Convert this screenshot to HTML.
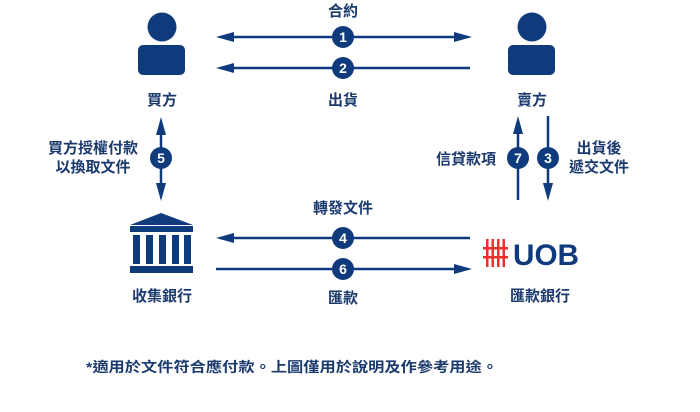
<!DOCTYPE html>
<html><head><meta charset="utf-8"><style>
body{margin:0;background:#fff;}
svg text{font-family:"Liberation Sans","Noto Sans CJK TC",sans-serif;fill:#1b3a6e;font-weight:bold;}
</style></head><body>
<svg width="700" height="407" viewBox="0 0 700 407" xmlns="http://www.w3.org/2000/svg">
<g fill="#0f3b7d">
<circle cx="162" cy="27" r="14.5"/><rect x="138" y="45" width="47" height="30" rx="5"/>
<circle cx="532" cy="27" r="14.5"/><rect x="508" y="45" width="47" height="30" rx="5"/>
<path d="M161,213 L193,225 L130,225z"/><rect x="130" y="226" width="63" height="6"/>
<rect x="133" y="235" width="7" height="29"/><rect x="146" y="235" width="7" height="29"/><rect x="159" y="235" width="7" height="29"/><rect x="172" y="235" width="7" height="29"/><rect x="184" y="235" width="7" height="29"/>
<rect x="130" y="266" width="63" height="7"/>
</g>
<g fill="#e8322b">
<rect x="486" y="239" width="2.5" height="28"/><rect x="491.5" y="239" width="2.5" height="28"/><rect x="497" y="239" width="2.5" height="28"/><rect x="502.5" y="239" width="2.5" height="28"/>
<rect x="483" y="247" width="25" height="2.5"/><rect x="483" y="256" width="25" height="2.5"/>
</g>
<text x="513" y="265" style="font-size:30px;fill:#0f3b7d" textLength="66" lengthAdjust="spacingAndGlyphs">UOB</text>
<g stroke="#0f3b7d" stroke-width="2.5" fill="none">
<line x1="220" y1="37" x2="468" y2="37"/><line x1="470" y1="68" x2="220" y2="68"/>
<line x1="470" y1="238" x2="220" y2="238"/><line x1="216" y1="269" x2="468" y2="269"/>
<line x1="161" y1="122" x2="161" y2="196"/>
<line x1="518" y1="200" x2="518" y2="121"/><line x1="548" y1="116" x2="548" y2="196"/>
</g>
<g fill="#0f3b7d">
<path d="M216,37 l18,-5 v10z"/><path d="M472,37 l-18,-5 v10z"/><path d="M216,68 l18,-5 v10z"/>
<path d="M216,238 l18,-5 v10z"/><path d="M472,269 l-18,-5 v10z"/>
<path d="M161,117 l-5,18 h10z"/><path d="M161,201 l-5,-18 h10z"/>
<path d="M518,116 l-5,18 h10z"/><path d="M548,201 l-5,-18 h10z"/>
<circle cx="343" cy="37" r="11"/><circle cx="343" cy="68" r="11"/><circle cx="343" cy="238" r="11"/><circle cx="343" cy="269" r="11"/>
<circle cx="161" cy="158" r="11"/><circle cx="518" cy="158" r="11"/><circle cx="548" cy="158" r="11"/>
</g>
<g style="font-size:14px" text-anchor="middle">
<text x="343" y="42" style="fill:#fff">1</text><text x="343" y="73" style="fill:#fff">2</text>
<text x="343" y="243" style="fill:#fff">4</text><text x="343" y="274" style="fill:#fff">6</text>
<text x="161" y="163" style="fill:#fff">5</text><text x="518" y="163" style="fill:#fff">7</text><text x="548" y="163" style="fill:#fff">3</text>
</g>
<g style="font-size:15px" text-anchor="middle">
<text x="343" y="16">合約</text><text x="162" y="105">買方</text><text x="343" y="105">出貨</text><text x="532" y="105">賣方</text>
<text x="93" y="153">買方授權付款</text><text x="93" y="172">以換取文件</text>
<text x="466" y="164">信貸款項</text>
<text x="599" y="153">出貨後</text><text x="599" y="172">遞交文件</text>
<text x="343" y="213">轉發文件</text>
<text x="162" y="301">收集銀行</text><text x="343" y="303">匯款</text><text x="540" y="301">匯款銀行</text>
</g>
<text x="86" y="372" style="font-size:14px" textLength="412" lengthAdjust="spacingAndGlyphs">*適用於文件符合應付款。上圖僅用於說明及作參考用途。</text>
</svg>
</body></html>
